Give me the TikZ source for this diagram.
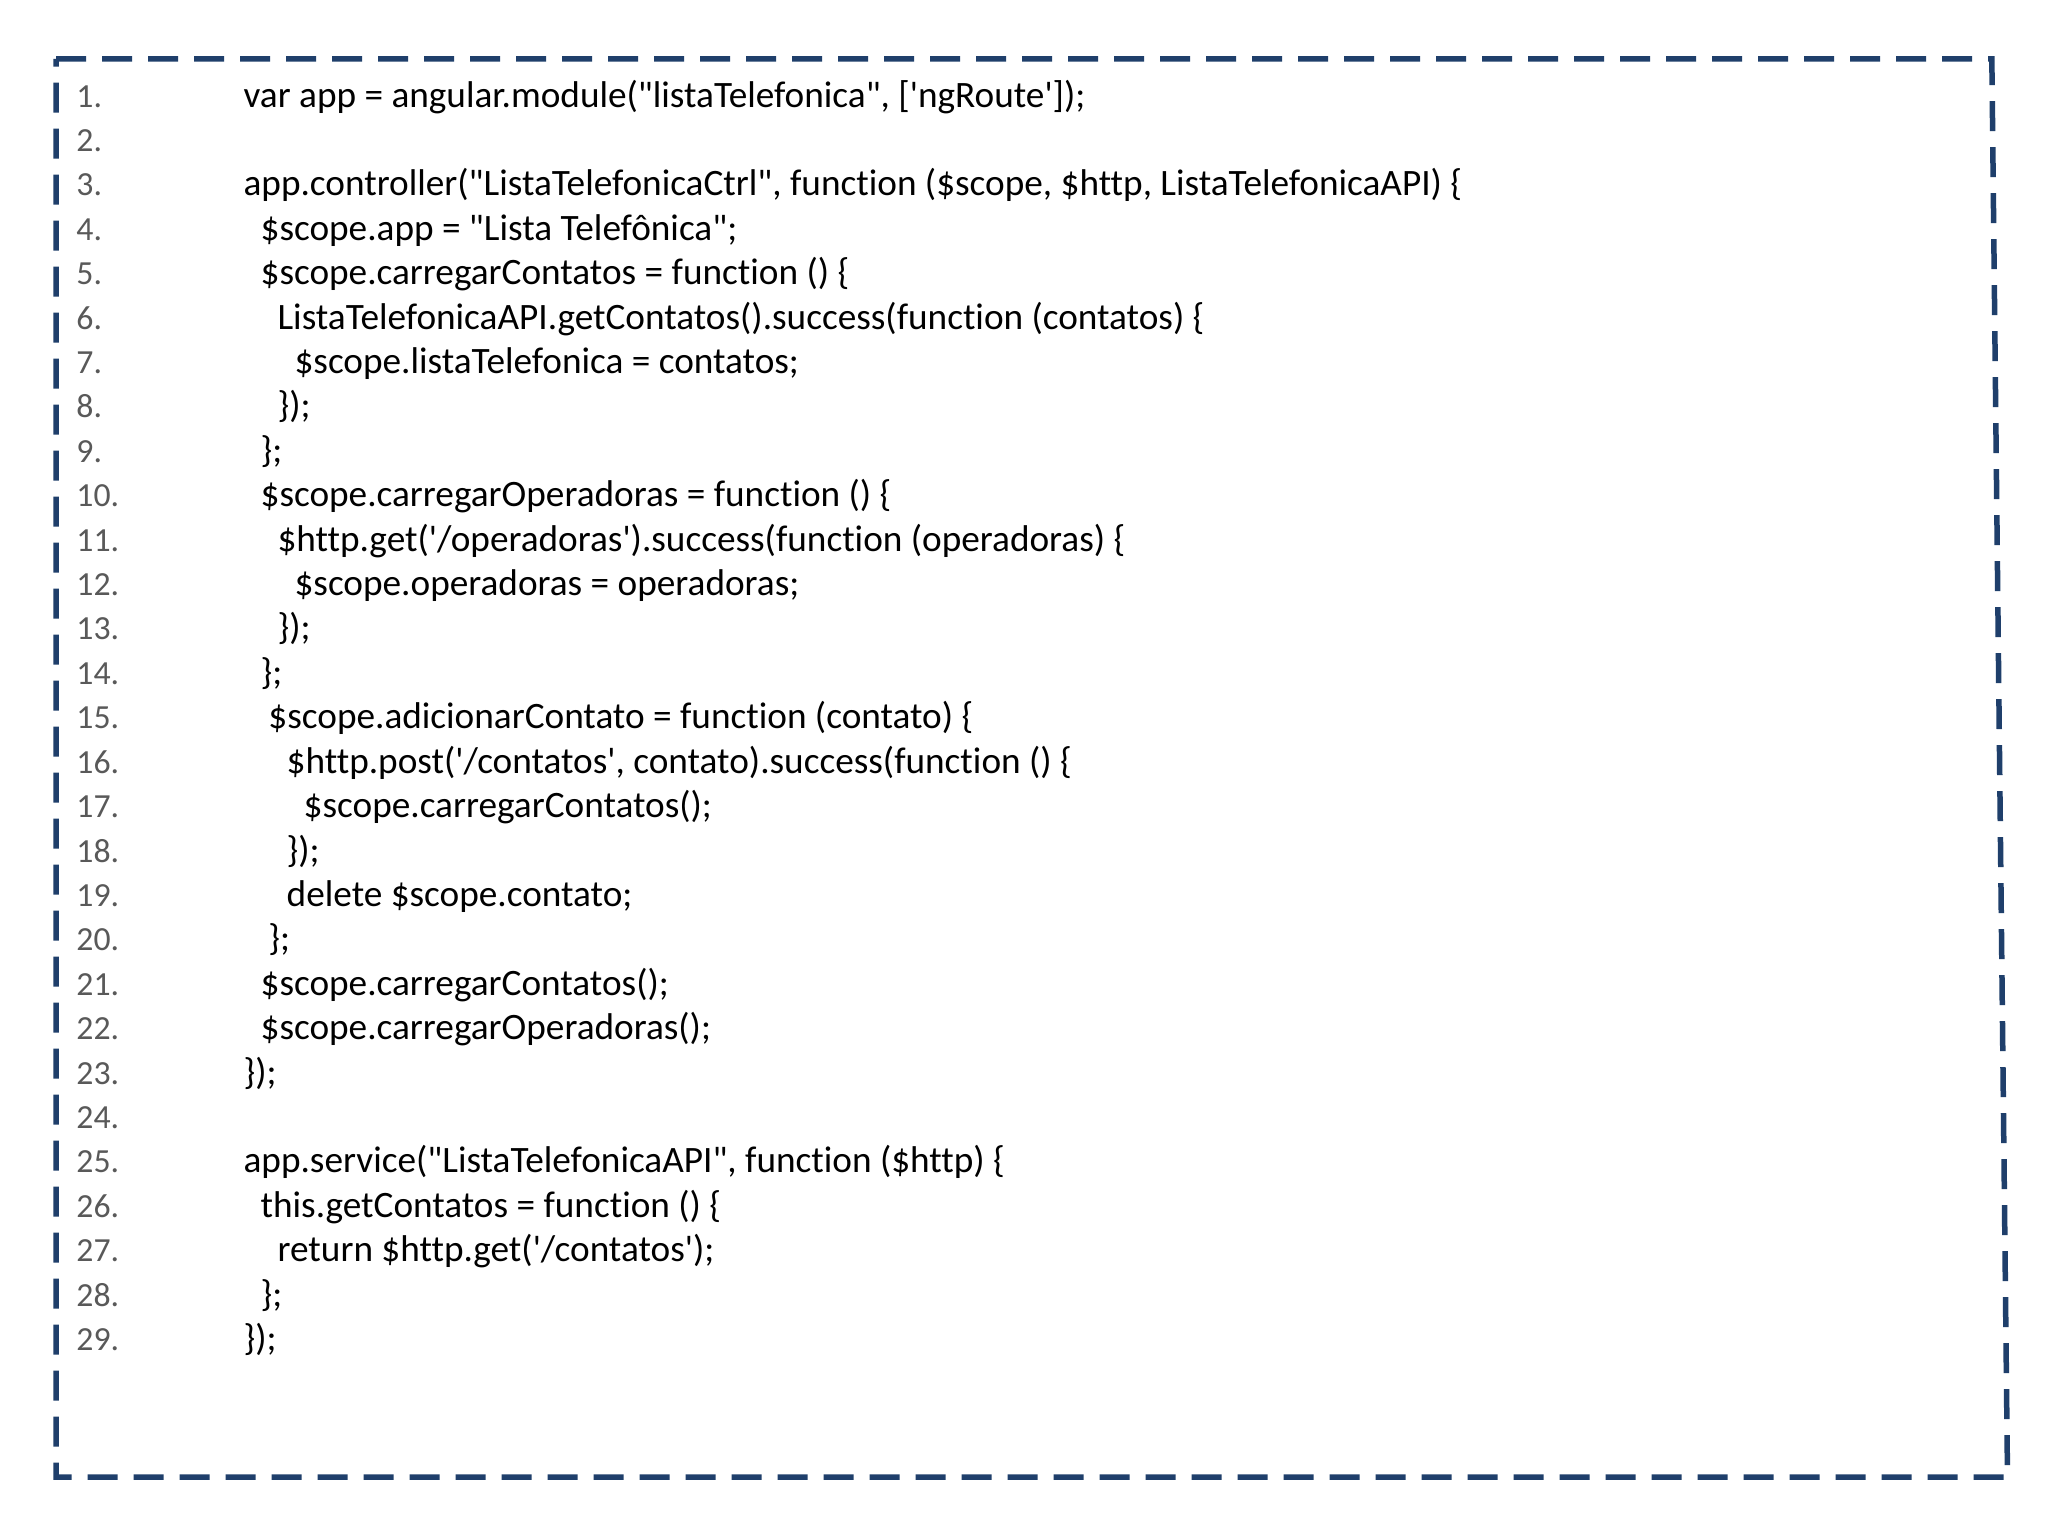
\documentclass[tikz,border=0pt]{standalone}
\usepackage{fontspec}
\newfontfamily\codefont{Carlito}[Ligatures=NoCommon]
\definecolor{framecol}{HTML}{1F3F6B}
\definecolor{numcol}{HTML}{595959}
\tikzset{
  codeline/.style={anchor=base west, inner sep=0pt, font=\codefont\fontsize{10.6}{12}\selectfont},
  numline/.style={codeline, text=numcol, font=\codefont\fontsize{9.6}{11}\selectfont},
}
\begin{document}
\begin{tikzpicture}[x=0.01306cm, y=-0.01306cm]
  \useasboundingbox[fill=white] (0,0) rectangle (1568,1176);
  \draw[framecol, line width=0.055cm, dash pattern=on 0.3cm off 0.16cm]
    (43,45) -- (1525,45) -- (1537,1131) -- (43,1131) -- cycle;
  % line numbers
  \foreach \n in {1,...,29}
    \node[numline] (n\n) at (58, 48+34*\n) {\n.};
  % code
  \node[codeline] (c1) at (186,82) {var app = angular.module("listaTelefonica", ['ngRoute']);};
  \node[codeline] (c3) at (186,150) {app.controller("ListaTelefonicaCtrl", function (\$scope, \$http, ListaTelefonicaAPI) \{};
  \node[codeline] (c4) at (199,184) {\$scope.app = "Lista Telefônica";};
  \node[codeline] (c5) at (199,218) {\$scope.carregarContatos = function () \{};
  \node[codeline] (c6) at (212,252) {ListaTelefonicaAPI.getContatos().success(function (contatos) \{};
  \node[codeline] (c7) at (225,286) {\$scope.listaTelefonica = contatos;};
  \node[codeline] (c8) at (212,320) {\});};
  \node[codeline] (c9) at (199,354) {\};};
  \node[codeline] (c10) at (199,388) {\$scope.carregarOperadoras = function () \{};
  \node[codeline] (c11) at (212,422) {\$http.get('/operadoras').success(function (operadoras) \{};
  \node[codeline] (c12) at (225,456) {\$scope.operadoras = operadoras;};
  \node[codeline] (c13) at (212,490) {\});};
  \node[codeline] (c14) at (199,524) {\};};
  \node[codeline] (c15) at (205,558) {\$scope.adicionarContato = function (contato) \{};
  \node[codeline] (c16) at (219,592) {\$http.post('/contatos', contato).success(function () \{};
  \node[codeline] (c17) at (232,626) {\$scope.carregarContatos();};
  \node[codeline] (c18) at (219,660) {\});};
  \node[codeline] (c19) at (219,694) {delete \$scope.contato;};
  \node[codeline] (c20) at (205,728) {\};};
  \node[codeline] (c21) at (199,762) {\$scope.carregarContatos();};
  \node[codeline] (c22) at (199,796) {\$scope.carregarOperadoras();};
  \node[codeline] (c23) at (186,830) {\});};
  \node[codeline] (c25) at (186,898) {app.service("ListaTelefonicaAPI", function (\$http) \{};
  \node[codeline] (c26) at (199,932) {this.getContatos = function () \{};
  \node[codeline] (c27) at (212,966) {return \$http.get('/contatos');};
  \node[codeline] (c28) at (199,1000) {\};};
  \node[codeline] (c29) at (186,1034) {\});};
\end{tikzpicture}
\end{document}
